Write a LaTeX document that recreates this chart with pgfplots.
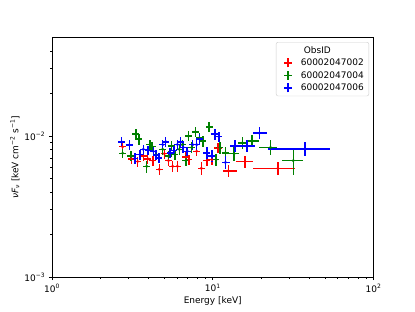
\documentclass[border=0pt]{standalone}
\usepackage{pgfplots}
\pgfplotsset{compat=1.18}
\usepackage{pgfplotstable}
\usepackage{fontspec}
\setmainfont{DejaVu Sans}
\definecolor{mgreen}{HTML}{008000}

\pgfplotstableread{
E F em ep dy
2.75 0.0084 0.14 0.14 0.00067
3.13 0.0069 0.16 0.16 0.00055
3.41 0.0066 0.17 0.17 0.00053
3.70 0.0072 0.19 0.19 0.00058
3.94 0.0069 0.20 0.20 0.00055
4.24 0.0067 0.21 0.21 0.00054
4.65 0.0058 0.23 0.23 0.00050
5.00 0.0075 0.25 0.25 0.00060
5.30 0.0067 0.27 0.27 0.00054
5.63 0.0061 0.28 0.28 0.00050
6.03 0.0061 0.30 0.30 0.00050
6.80 0.0071 0.34 0.34 0.00057
7.10 0.0068 0.36 0.36 0.00055
7.94 0.0078 0.40 0.40 0.00063
8.50 0.0059 0.43 0.43 0.00065
9.20 0.0067 0.46 0.46 0.00055
9.86 0.0068 0.49 0.49 0.00057
10.8 0.0082 0.60 0.60 0.00068
12.5 0.00566 1.0 1.6 0.00055
15.9 0.0066 2.0 2.0 0.00065
25.4 0.0059 7.5 7.2 0.00065
}\redtab

\pgfplotstableread{
E F em ep dy
2.75 0.00755 0.14 0.14 0.0006
3.10 0.0072 0.16 0.16 0.0006
3.32 0.0103 0.17 0.17 0.0009
3.47 0.0095 0.17 0.17 0.0008
3.88 0.0061 0.19 0.19 0.0006
4.07 0.0087 0.20 0.20 0.0007
4.20 0.0084 0.21 0.21 0.0007
4.44 0.0074 0.22 0.22 0.0006
4.88 0.00805 0.24 0.24 0.0007
5.30 0.0072 0.27 0.27 0.0006
5.55 0.0085 0.28 0.28 0.0007
5.82 0.0074 0.29 0.29 0.0006
6.20 0.00805 0.31 0.31 0.0007
6.47 0.0087 0.32 0.32 0.0007
6.80 0.0067 0.34 0.34 0.0006
7.05 0.0100 0.35 0.35 0.0008
7.40 0.0083 0.37 0.37 0.0007
7.80 0.0107 0.39 0.39 0.0009
8.25 0.0097 0.41 0.41 0.0008
8.70 0.0092 0.43 0.43 0.0008
9.50 0.0116 0.48 0.48 0.0010
10.5 0.0068 0.50 0.50 0.0007
11.1 0.0083 0.55 0.55 0.0008
12.0 0.0076 0.60 0.60 0.0008
13.6 0.0075 0.90 1.00 0.0008
15.3 0.00895 1.00 1.20 0.0009
17.6 0.0092 1.30 1.70 0.0009
22.9 0.0083 3.50 2.10 0.0010
31.7 0.0067 4.80 4.90 0.0014
}\greentab

\pgfplotstableread{
E F em ep dy
2.71 0.0091 0.14 0.14 0.0007
3.03 0.00865 0.15 0.15 0.0007
3.28 0.00695 0.16 0.16 0.0006
3.53 0.0074 0.18 0.18 0.0006
3.70 0.00805 0.19 0.19 0.0006
3.97 0.0079 0.20 0.20 0.0006
4.27 0.0078 0.21 0.21 0.0006
4.44 0.00735 0.22 0.22 0.0006
4.63 0.0070 0.23 0.23 0.0006
4.88 0.0087 0.24 0.24 0.0007
5.10 0.0091 0.26 0.26 0.0007
5.43 0.0076 0.27 0.27 0.0006
5.74 0.0079 0.29 0.29 0.0006
6.03 0.0087 0.30 0.30 0.0007
6.32 0.0091 0.32 0.32 0.0007
6.55 0.0083 0.33 0.33 0.0007
6.94 0.0078 0.35 0.35 0.0006
7.50 0.0087 0.38 0.38 0.0007
7.94 0.0087 0.40 0.40 0.0007
8.30 0.0095 0.42 0.42 0.0008
9.18 0.0076 0.46 0.46 0.0007
9.86 0.0072 0.49 0.49 0.0007
10.3 0.0103 0.50 0.50 0.0009
10.9 0.0099 0.55 0.55 0.0008
12.0 0.0065 0.60 0.80 0.0007
13.8 0.0085 1.00 0.90 0.0008
16.3 0.0085 1.70 1.90 0.0008
19.5 0.0105 1.80 2.20 0.0010
37.5 0.0081 15.3 16.1 0.0009
}\bluetab

\pgfplotsset{
  obs/.style={#1, only marks, mark=*, mark size=1.3pt, mark options={fill=#1, draw=#1},
    legend image code/.code={
      \node[draw=none, fill=none, inner sep=0pt, minimum width=13pt, minimum height=9pt] at (6.5pt,0pt) {};
      \draw[#1,line width=1.5pt] (5pt,0pt)--(13pt,0pt) (9pt,-4.5pt)--(9pt,4.5pt);
      \fill[#1] (9pt,0pt) circle (1.3pt);},
    error bars/.cd, x dir=both, x explicit, y dir=both, y explicit,
    error bar style={line width=1.5pt, #1}, error mark=none},
}

\begin{document}
\begin{tikzpicture}
\path (0,0) rectangle (415pt,311pt);
\begin{axis}[
  at={(52pt,34pt)}, anchor=south west,
  scale only axis, width=321.5pt, height=239.5pt,
  xmode=log, ymode=log,
  xmin=1, xmax=100, ymin=0.001, ymax=0.05,
  xtick={1,10,100},
  xticklabels={10\textsuperscript{0},10\textsuperscript{1},10\textsuperscript{2}},
  ytick={0.001,0.01},
  yticklabels={10\textsuperscript{−3},10\textsuperscript{−2}},
  minor xtick={2,3,4,5,6,7,8,9,20,30,40,50,60,70,80,90},
  minor ytick={0.002,0.003,0.004,0.005,0.006,0.007,0.008,0.009,0.02,0.03,0.04},
  tick align=outside, tick pos=left,
  major tick length=3.2pt, minor tick length=1.8pt,
  every tick/.style={black, line width=0.7pt},
  axis line style={line width=0.7pt},
  font=\fontsize{9}{11}\selectfont,
  tick label style={font=\fontsize{9}{11}\selectfont},
  xlabel={Energy [keV]},
  ylabel={\textit{νF}\textsubscript{\textit{ν}} [keV cm\textsuperscript{−2} s\textsuperscript{−1}]},
  xlabel style={yshift=2pt},
  ylabel style={yshift=-2pt},
  legend cell align=left,
  legend style={at={(1,1)}, anchor=north east, xshift=-4.5pt, yshift=-4.5pt,
    draw=black!20, rounded corners=2pt, fill=white,
    font=\fontsize{9}{11}\selectfont, row sep=0.3pt, inner xsep=3pt, inner ysep=2pt},
]
\addlegendimage{empty legend}
\addlegendentry{\hspace{3pt}ObsID}

\addplot[obs=red]
  table[x=E, y=F, x error plus=ep, x error minus=em, y error=dy]{\redtab};
\addlegendentry{60002047002}

\addplot[obs=mgreen]
  table[x=E, y=F, x error plus=ep, x error minus=em, y error=dy]{\greentab};
\addlegendentry{60002047004}

\addplot[obs=blue]
  table[x=E, y=F, x error plus=ep, x error minus=em, y error=dy]{\bluetab};
\addlegendentry{60002047006}
\end{axis}
\end{tikzpicture}
\end{document}
